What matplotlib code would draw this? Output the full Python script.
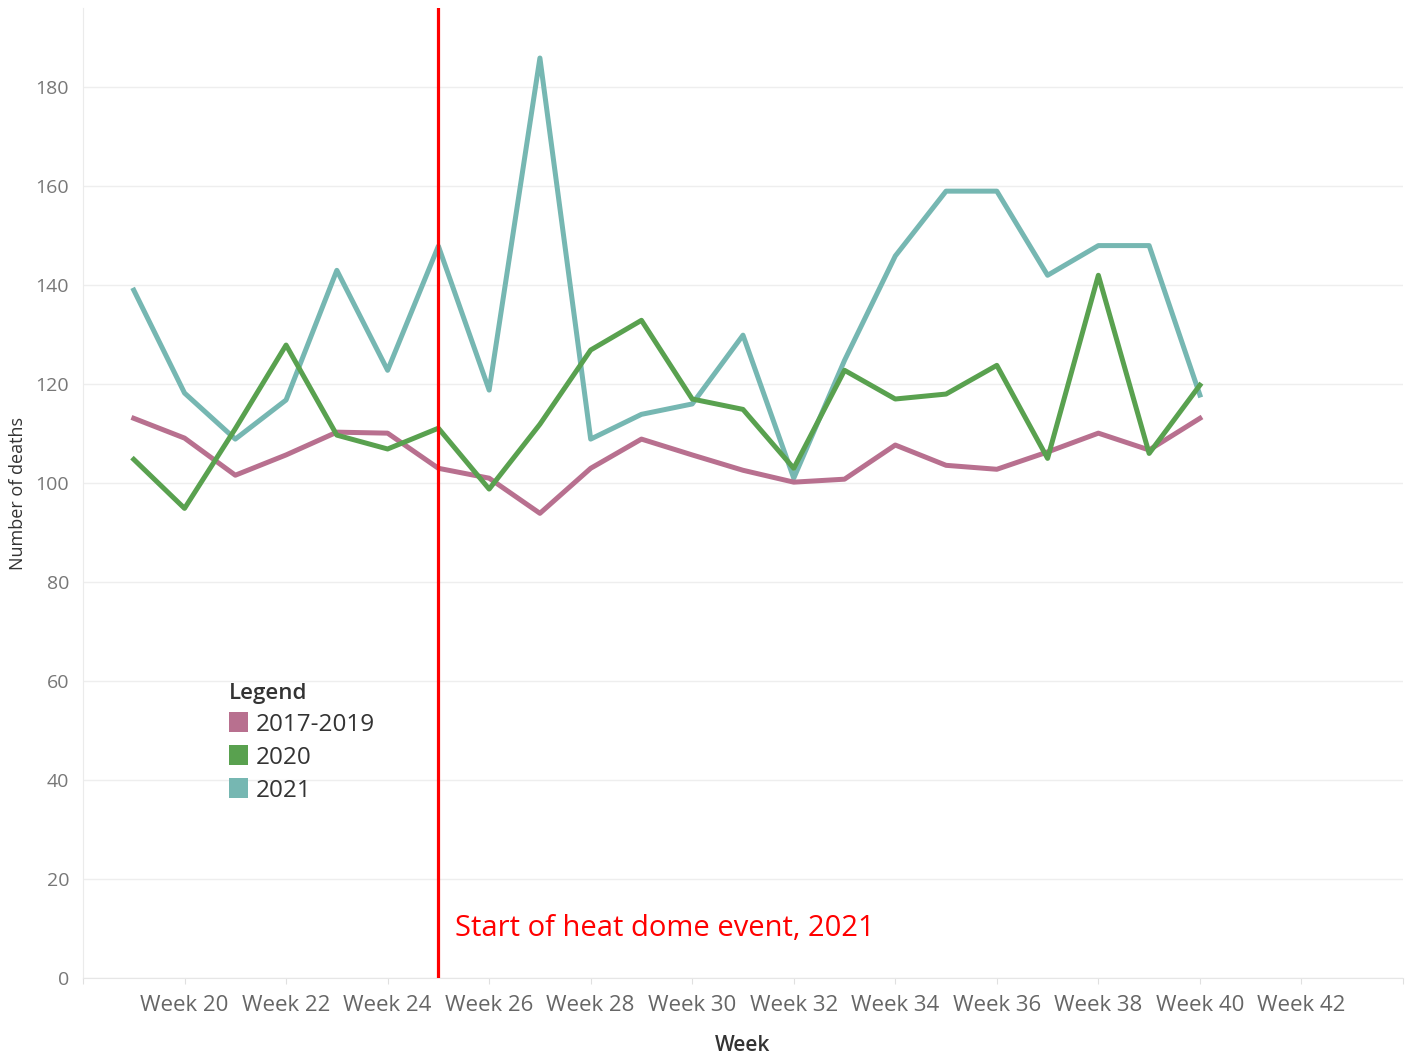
import matplotlib.pyplot as plt
from matplotlib.patches import Patch

plt.rcParams['font.family'] = ['Open Sans', 'DejaVu Sans']

# Données
weeks = list(range(19, 41))
deaths_2017_2019 = [113.1, 109.1, 101.6, 105.7, 110.3, 110.1, 103.0, 101.0, 93.9, 103.0, 108.9,
                    105.7, 102.6, 100.2, 100.8, 107.7, 103.6, 102.8, 106.3, 110.1, 106.7, 113.1]
deaths_2020 = [104.8, 94.9, 111.0, 127.9, 109.7, 106.9, 111.1, 98.8, 111.9, 126.9, 132.9,
               117.0, 114.9, 103.0, 122.8, 117.0, 118.0, 123.8, 105.0, 142.0, 106.0, 119.8]
deaths_2021 = [139.0, 118.2, 108.9, 116.8, 143.0, 122.8, 147.9, 118.8, 185.9, 108.9, 113.9,
               116.0, 129.9, 101.0, 124.8, 145.9, 159.0, 159.0, 142.0, 148.0, 148.0, 117.8]
series_names = ['2017-2019', '2020', '2021']
colors = ['#b8708f', '#59a14f', '#76b7b2']
tick_weeks = list(range(18, 45, 2))
tick_labels = ['' if w in (18, 44) else 'Week %d' % w for w in tick_weeks]
heat_dome_week = 25

fig = plt.figure(figsize=(14.14, 10.57), dpi=100)
ax = fig.add_axes([0.0587, 0.0747, 0.9335, 0.9177])

# Ordre de tracé : rose, vert, puis bleu-vert au-dessus
ax.plot(weeks, deaths_2017_2019, color=colors[0], lw=3.6, zorder=3)
ax.plot(weeks, deaths_2020, color=colors[1], lw=3.6, zorder=4)
ax.plot(weeks, deaths_2021, color=colors[2], lw=3.6, zorder=2)

ax.axvline(heat_dome_week, color='#ff0000', lw=2.3, zorder=5)
ax.text(heat_dome_week + 0.33, 10, 'Start of heat dome event, 2021', color='#ff0000',
        fontsize=21, va='center', ha='left')

ax.set_xlim(18, 44)
ax.set_ylim(0, 196)
ax.set_yticks(range(0, 181, 20))
ax.set_xticks(tick_weeks)
ax.set_xticklabels(tick_labels)
ax.grid(axis='y', color='#eeeeee', lw=1)
ax.set_axisbelow(True)

for s in ['top', 'right']:
    ax.spines[s].set_visible(False)
ax.spines['left'].set_color('#ebebeb')
ax.spines['bottom'].set_color('#e6e6e6')
ax.tick_params(axis='x', colors='#e0e0e0', labelcolor='#666666', labelsize=16, length=4, pad=8)
ax.tick_params(axis='y', length=0, labelcolor='#777777', labelsize=14, pad=10)

ax.set_ylabel('Number of deaths', fontsize=13, color='#333333', labelpad=6)
ax.set_xlabel('Week', fontsize=15, color='#333333', fontweight='semibold', labelpad=14)

handles = [Patch(facecolor=c, edgecolor='none') for c in colors]
leg = ax.legend(handles, series_names, title='Legend', loc='upper left',
                bbox_to_anchor=(0.094, 0.327), frameon=False, fontsize=17.5,
                title_fontsize=16, handlelength=0.8, handleheight=0.9,
                handletextpad=0.3, labelspacing=0.35, alignment='left')
leg.get_title().set_color('#333333')
leg.get_title().set_fontweight('semibold')
for t in leg.get_texts():
    t.set_color('#333333')

fig.savefig('out.png', dpi=100)
